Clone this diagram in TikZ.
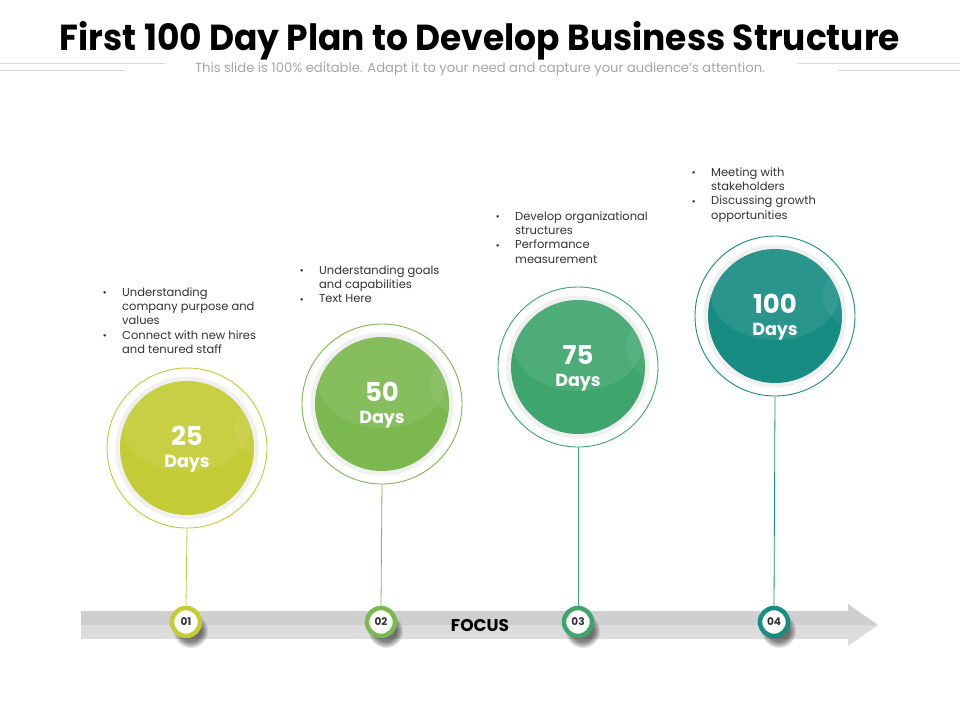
\documentclass[tikz,border=0pt]{standalone}
\usepackage{fontspec}
\setmainfont{Poppins}
\usetikzlibrary{calc}
\definecolor{cA}{HTML}{C4CB35}
\definecolor{cB}{HTML}{7CB850}
\definecolor{cC}{HTML}{3EA56C}
\definecolor{cD}{HTML}{178C83}
\definecolor{txt}{HTML}{333333}
\definecolor{subg}{HTML}{A6A6A6}
\definecolor{arrA}{HTML}{CFCFCF}
\definecolor{arrB}{HTML}{DCDCDC}
\tikzset{
  outerring/.style={circle, draw=#1, line width=0.9pt, minimum size=160pt, inner sep=0pt},
  marker/.style={circle, draw=#1, line width=4.5pt, fill=white, minimum size=28pt, inner sep=0pt,
     font=\bfseries\fontsize{10.5}{10.5}\selectfont, text=txt},
  stem/.style={draw=#1, line width=0.8pt},
  bullets/.style={anchor=north west, inner sep=0pt, align=left,
     font=\fontsize{11.5}{14.3}\selectfont, text=txt},
  daytxt/.style={text=white, font=\bfseries\fontsize{#1}{#1}\selectfont, inner sep=0pt},
}
\newcommand{\bdot}{\raisebox{1.5pt}{\scalebox{0.55}{$\bullet$}}}
\newcommand{\blist}[1]{\begin{tabular}{@{}p{19pt}@{}l@{}}#1\end{tabular}}
\newcommand{\dayball}[5]{%
  \fill[black!6] (#2,#3) circle (71.5);
  \fill[#4] (#2,#3) circle (67);
  \begin{scope}
    \clip (#2,#3) circle (67);
    \fill[white, opacity=0.08] ($(#2,#3)+(0,-22)$) ellipse (64 and 46);
    \fill[white, opacity=0.06] ($(#2,#3)+(78,-20)$) circle (30);
  \end{scope}
  \node[outerring=#4] (#1) at (#2,#3) {};
  \node[daytxt=26] at ($(#2,#3)+(0,-12)$) {#5};
  \node[daytxt=17.5] at ($(#2,#3)+(0,16)$) {Days};
}
\newcommand{\softshadow}[2]{%
  \foreach \r in {17,16,15,14,13,12,11}{\fill[black, opacity=0.09] ($(#1,#2)+(5,9)$) circle (\r);}
}
\begin{document}
\begin{tikzpicture}[x=1pt, y=-1pt]
\useasboundingbox (0,0) rectangle (960,720);
\fill[white] (0,0) rectangle (960,720);
% title
\node[inner sep=0pt, anchor=base] (title) at (480,50) {\resizebox{840pt}{29pt}{\bfseries First 100 Day Plan to Develop Business Structure}};
\node[inner sep=0pt, anchor=base, text=subg] (sub) at (480,72) {\resizebox{570pt}{!}{\fontsize{10}{12}\selectfont This slide is 100\% editable. Adapt it to your need and capture your audience's attention.}};
\draw[black!15, line width=0.8pt] (0,63.5) -- (165,63.5);
\draw[black!15, line width=0.8pt] (0,70.5) -- (125,70.5);
\draw[black!15, line width=0.8pt] (797,63.5) -- (960,63.5);
\draw[black!15, line width=0.8pt] (838,70.5) -- (960,70.5);
% arrow
\fill[arrA] (81,611) rectangle (848,625);
\fill[arrB] (81,625) rectangle (848,639);
\fill[arrA] (848,604) -- (878,625) -- (848,625) -- cycle;
\fill[arrB] (848,625) -- (878,625) -- (848,646) -- cycle;
\node[font=\bfseries\fontsize{17}{17}\selectfont, text=black, inner sep=0pt] (focus) at (480,625) {FOCUS};
% balls
\dayball{c1}{187}{448}{cA}{25}
\dayball{c2}{382}{404}{cB}{50}
\dayball{c3}{578}{367}{cC}{75}
\dayball{c4}{775}{316}{cD}{100}
% marker shadows
\softshadow{186}{622}
\softshadow{381}{622}
\softshadow{578}{622}
\softshadow{774}{622}
% markers
\node[marker=cA] (m1) at (186,622) {01};
\node[marker=cB] (m2) at (381,622) {02};
\node[marker=cC] (m3) at (578,622) {03};
\node[marker=cD] (m4) at (774,622) {04};
\draw[stem=cA] (c1.south) -- (m1.north);
\draw[stem=cB] (c2.south) -- (m2.north);
\draw[stem=cC] (c3.south) -- (m3.north);
\draw[stem=cD] (c4.south) -- (m4.north);
% bullet texts
\node[bullets] (t1) at (103,286) {\blist{\bdot & Understanding\\ & company purpose and\\ & values\\ \bdot & Connect with new hires\\ & and tenured staff}};
\node[bullets] (t2) at (300,264) {\blist{\bdot & Understanding goals\\ & and capabilities\\ \bdot & Text Here}};
\node[bullets] (t3) at (496,210) {\blist{\bdot & Develop organizational\\ & structures\\ \bdot & Performance\\ & measurement}};
\node[bullets] (t4) at (692,166) {\blist{\bdot & Meeting with\\ & stakeholders\\ \bdot & Discussing growth\\ & opportunities}};
\end{tikzpicture}
\end{document}
